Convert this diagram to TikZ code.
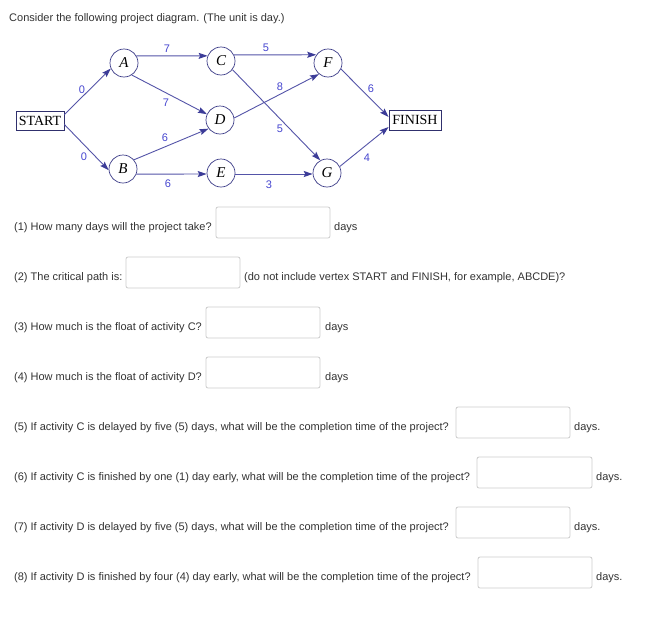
\documentclass[tikz,border=0pt]{standalone}
\usepackage{fontspec}
\setmainfont{Liberation Serif}
\setsansfont{Liberation Sans}
\usetikzlibrary{arrows.meta}
\definecolor{edgecol}{HTML}{5454A8}
\definecolor{tipcol}{HTML}{3C3C98}
\definecolor{labcol}{HTML}{4646D0}
\definecolor{circcol}{HTML}{3C3C88}
\definecolor{txtcol}{HTML}{333333}
\definecolor{boxcol}{HTML}{CCCCCC}
\tikzset{
  vtx/.style={circle,draw=circcol,line width=0.7pt,minimum size=28pt,inner sep=0pt,font=\fontsize{15}{15}\selectfont\itshape},
  endbox/.style={rectangle,draw=circcol!80!black,line width=0.8pt,inner sep=0pt,font=\fontsize{14}{14}\selectfont},
  edge/.style={draw=edgecol,line width=0.9pt,-{Stealth[length=9pt,width=6pt,inset=1.5pt,color=tipcol]}},
  lab/.style={text=labcol,font=\sffamily\fontsize{11}{11}\selectfont,inner sep=0pt},
  qtext/.style={anchor=base west,inner sep=0pt,text=txtcol,font=\sffamily\fontsize{11}{11}\selectfont},
  ansbox/.style={draw=boxcol,line width=0.8pt,rounded corners=2pt}
}
\begin{document}
\begin{tikzpicture}[x=1pt,y=-1pt]
\useasboundingbox[fill=white] (0,0) rectangle (652,621);
\node[qtext] (title) at (9,21) {Consider the following project diagram. (The unit is day.)};

% nodes
\node[endbox,minimum width=48pt,minimum height=19pt] (S) at (40,120.5) {START};
\node[endbox,minimum width=52pt,minimum height=20pt] (FIN) at (415,120) {FINISH};
\node[vtx] (A) at (124,63) {A};
\node[vtx] (C) at (221,61) {C};
\node[vtx] (F) at (328,63) {F};
\node[vtx] (D) at (220,120) {D};
\node[vtx] (B) at (123,169) {B};
\node[vtx] (E) at (221,173) {E};
\node[vtx] (G) at (327,173) {G};

% edges
\draw[edge] ([yshift=6pt]S.east) -- (A.203);
\draw[edge] ([yshift=-4pt]S.east) -- (B.185);
\draw[edge] (A.30) -- (C.159);
\draw[edge] (A.-57) -- (D.156);
\draw[edge] (B.40) -- (D.217);
\draw[edge] (B.-21) -- (E.184);
\draw[edge] (C.25) -- (F.145);
\draw[edge] (C.-37) -- (G.118);
\draw[edge] (D.8) -- (F.231);
\draw[edge] (E.-4) -- (G.184);
\draw[edge] (F.-25) -- ([yshift=3pt]FIN.west);
\draw[edge] (G.27) -- ([yshift=-7pt]FIN.west);

% labels
\node[lab] (l1) at (82,90) {0};
\node[lab] (l2) at (84,157) {0};
\node[lab] (l3) at (167,49) {7};
\node[lab] (l4) at (166,103) {7};
\node[lab] (l5) at (165,138) {6};
\node[lab] (l6) at (168,184) {6};
\node[lab] (l7) at (266,48) {5};
\node[lab] (l8) at (280,87) {8};
\node[lab] (l9) at (280,129) {5};
\node[lab] (l10) at (269,185) {3};
\node[lab] (l11) at (371,89) {6};
\node[lab] (l12) at (367,158) {4};

% questions
\node[qtext] (q1) at (14,230) {(1) How many days will the project take?};
\draw[ansbox] (216,207) rectangle (330,238);
\node[qtext] (d1) at (334,230) {days};

\node[qtext] (q2) at (14,280) {(2) The critical path is:};
\draw[ansbox] (126,257) rectangle (240,288);
\node[qtext] (d2) at (244,280) {(do not include vertex START and FINISH, for example, ABCDE)?};

\node[qtext] (q3) at (14,330) {(3) How much is the float of activity C?};
\draw[ansbox] (206,307) rectangle (320,338);
\node[qtext] (d3) at (325,330) {days};

\node[qtext] (q4) at (14,380) {(4) How much is the float of activity D?};
\draw[ansbox] (206,357) rectangle (320,388);
\node[qtext] (d4) at (325,380) {days};

\node[qtext] (q5) at (14,430) {(5) If activity C is delayed by five (5) days, what will be the completion time of the project?};
\draw[ansbox] (456,407) rectangle (570,438);
\node[qtext] (d5) at (574,430) {days.};

\node[qtext] (q6) at (14,480) {(6) If activity C is finished by one (1) day early, what will be the completion time of the project?};
\draw[ansbox] (477,457) rectangle (592,488);
\node[qtext] (d6) at (596,480) {days.};

\node[qtext] (q7) at (14,530) {(7) If activity D is delayed by five (5) days, what will be the completion time of the project?};
\draw[ansbox] (456,507) rectangle (570,538);
\node[qtext] (d7) at (574,530) {days.};

\node[qtext] (q8) at (14,580) {(8) If activity D is finished by four (4) day early, what will be the completion time of the project?};
\draw[ansbox] (478,557) rectangle (592,588);
\node[qtext] (d8) at (596,580) {days.};
\end{tikzpicture}
\end{document}
